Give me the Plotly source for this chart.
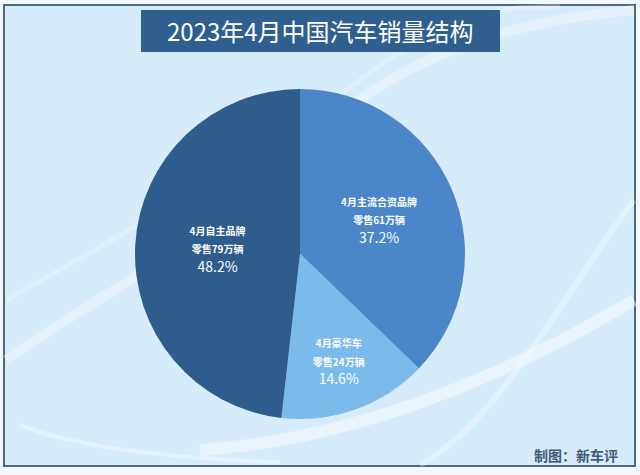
import plotly.graph_objects as go

# Data
categories = ["4月主流合资品牌", "4月豪华车", "4月自主品牌"]
sales_wan = [61, 24, 79]
shares = [37.2, 14.6, 48.2]
colors = ["#4a86c8", "#7bbbec", "#2e5c8c"]

title = "2023年4月中国汽车销量结构"
credit = "制图：新车评"

W, H = 640, 475

texts = [
    f"<span style='font-size:10px'><b>{c}</b></span><br>"
    f"<span style='font-size:10px'><b>零售{v}万辆</b></span><br>{s}%"
    for c, v, s in zip(categories, sales_wan, shares)
]

fig = go.Figure()
fig.add_trace(go.Pie(
    labels=categories,
    values=shares,
    text=texts,
    textinfo="text",
    textposition="inside",
    insidetextorientation="horizontal",
    textfont=dict(family="Noto Sans CJK SC", size=14, color="white"),
    marker=dict(colors=colors, line=dict(width=0)),
    sort=False,
    direction="clockwise",
    rotation=0,
    showlegend=False,
    hoverinfo="label+percent",
    domain=dict(x=[(300 - 165) / W, (300 + 165) / W],
                y=[(H - 254 - 165) / H, (H - 254 + 165) / H]),
))

shapes = [
    # inner panel with border
    dict(type="rect", xref="paper", yref="paper", layer="below",
         x0=4 / W, x1=635 / W, y0=1 - 466 / H, y1=1 - 5 / H,
         fillcolor="#d7ecfa", line=dict(color="#4d6686", width=2)),
    # decorative swooshes
    dict(type="path", xref="paper", yref="paper", layer="below",
         path=f"M {6/W} {1-360/H} C {120/W} {1-280/H}, {200/W} {1-250/H}, {300/W} {1-150/H} S {520/W} {1-20/H}, {634/W} {1-10/H}",
         line=dict(color="rgba(255,255,255,0.35)", width=10)),
    dict(type="path", xref="paper", yref="paper", layer="below",
         path=f"M {6/W} {1-300/H} C {150/W} {1-220/H}, {250/W} {1-160/H}, {360/W} {1-80/H} S {500/W} {1-10/H}, {560/W} {1-6/H}",
         line=dict(color="rgba(255,255,255,0.25)", width=5)),
    dict(type="path", xref="paper", yref="paper", layer="below",
         path=f"M {20/W} {1-425/H} C {80/W} {1-450/H}, {200/W} {1-460/H}, {280/W} {1-462/H}",
         line=dict(color="rgba(255,255,255,0.4)", width=4)),
    dict(type="path", xref="paper", yref="paper", layer="below",
         path=f"M {200/W} {1-450/H} C {350/W} {1-440/H}, {500/W} {1-380/H}, {634/W} {1-300/H}",
         line=dict(color="rgba(255,255,255,0.45)", width=12)),
    dict(type="path", xref="paper", yref="paper", layer="below",
         path=f"M {420/W} {1-465/H} C {500/W} {1-420/H}, {560/W} {1-300/H}, {634/W} {1-200/H}",
         line=dict(color="rgba(255,255,255,0.3)", width=6)),
    # title box
    dict(type="rect", xref="paper", yref="paper", layer="below",
         x0=141 / W, x1=500 / W, y0=1 - 52 / H, y1=1 - 10 / H,
         fillcolor="#2f5f8f", line=dict(width=0)),
]

annotations = [
    dict(text=title, x=320 / W, y=1 - 31 / H, xref="paper", yref="paper",
         showarrow=False, xanchor="center", yanchor="middle",
         font=dict(family="Noto Sans CJK SC", size=24, color="white")),
    dict(text=f"<b>{credit}</b>", x=620 / W, y=1 - 455 / H, xref="paper", yref="paper",
         showarrow=False, xanchor="right", yanchor="middle",
         font=dict(family="Noto Sans CJK SC", size=14, color="#3d5a7c")),
]

fig.update_layout(
    width=W, height=H,
    margin=dict(l=0, r=0, t=0, b=0),
    paper_bgcolor="#f2f8fd",
    plot_bgcolor="rgba(0,0,0,0)",
    shapes=shapes,
    annotations=annotations,
)

fig.write_html("out.html")
